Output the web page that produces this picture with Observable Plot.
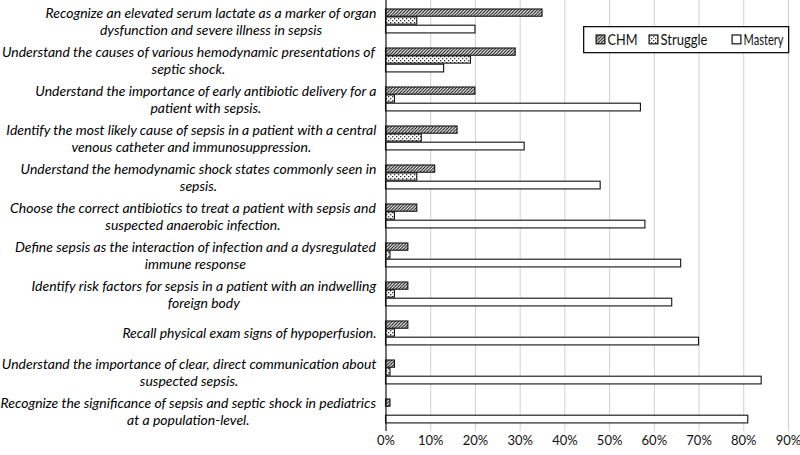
<!DOCTYPE html>
<html>
<head>
<meta charset="utf-8">
<script src="https://cdn.jsdelivr.net/npm/d3@7"></script>
<script src="https://cdn.jsdelivr.net/npm/@observablehq/plot@0.6"></script>
<style>
  html, body { margin: 0; padding: 0; background: #fff; }
  #wrap { position: relative; width: 800px; height: 455px; overflow: hidden; font-family: Lato, "Open Sans", sans-serif; }
  #legend { position: absolute; left: 583px; top: 26px; overflow: visible; }
</style>
</head>
<body>
<div id="wrap"></div>
<script>
const categories = [
  "Recognize an elevated serum lactate as a marker of organ\ndysfunction and severe illness in sepsis",
  "Understand the causes of various hemodynamic presentations of\nseptic shock.",
  "Understand the importance of early antibiotic delivery for a\npatient with sepsis.",
  "Identify the most likely cause of sepsis in a patient with a central\nvenous catheter and immunosuppression.",
  "Understand the hemodynamic shock states commonly seen in\nsepsis.",
  "Choose the correct antibiotics to treat a patient with sepsis and\nsuspected anaerobic infection.",
  "Define sepsis as the interaction of infection and a dysregulated\nimmune response",
  "Identify risk factors for sepsis in a patient with an indwelling\nforeign body",
  "Recall physical exam signs of hypoperfusion.",
  "Understand the importance of clear, direct communication about\nsuspected sepsis.",
  "Recognize the significance of sepsis and septic shock in pediatrics\nat a population-level."
];
const series = ["CHM", "Struggle", "Mastery"];
const chm      = [35, 29, 20, 16, 11, 7, 5, 5, 5, 2, 1];
const struggle = [7, 19, 2, 8, 7, 2, 1, 2, 2, 1, 0];
const mastery  = [20, 13, 57, 31, 48, 58, 66, 64, 70, 84, 81];
const xTicks = [0, 10, 20, 30, 40, 50, 60, 70, 80, 90];

const valuesBySeries = {CHM: chm, Struggle: struggle, Mastery: mastery};
const rows = [];
series.forEach(s => categories.forEach((c, i) => rows.push({category: c, series: s, value: valuesBySeries[s][i]})));

const fills = {CHM: "url(#pat-hatch)", Struggle: "url(#pat-dots)", Mastery: "#ffffff"};

const FONT = "Lato";
const labelSize = 14;
const H = 455, plotBottom = 431, axisX = 385.5;
const labelRight = axisX - 9;
const band = plotBottom / categories.length;
const slots = {
  CHM:      {top: 8.0,  h: 7.4},
  Struggle: {top: 15.9, h: 7.4},
  Mastery:  {top: 24.2, h: 7.9}
};

const marks = [
  Plot.ruleX(xTicks.filter(d => d > 0), {x: d => d, stroke: "#d0d0d0", strokeWidth: 1}),
  ...series.map(s => Plot.barX(rows.filter(r => r.series === s && r.value > 0), {
    x: "value", y: "category",
    fill: fills[s], stroke: "#111", strokeWidth: 1.1,
    insetTop: slots[s].top, insetBottom: band - slots[s].top - slots[s].h
  })),
  Plot.ruleX([0], {stroke: "#111", strokeWidth: 1.2}),
  Plot.text(xTicks, {x: d => d, text: d => d + "%", frameAnchor: "bottom", lineAnchor: "top", dy: 4,
    fontSize: 13, fill: "#111", fontFamily: FONT}),
  ...categories.map(c => Plot.text([c], {
    y: d => d, text: d => d, frameAnchor: "left", textAnchor: "middle", lineAnchor: "middle",
    dx: -200, fontSize: labelSize, fontStyle: "italic", fill: "#000",
    fontFamily: FONT, lineHeight: 17 / labelSize
  }))
];

const chart = Plot.plot({
  width: 800, height: H,
  marginLeft: axisX, marginRight: 12, marginTop: 0, marginBottom: H - plotBottom,
  style: {fontFamily: FONT, background: "#fff", overflow: "visible"},
  x: {domain: [0, 90], axis: null},
  y: {domain: categories, padding: 0, axis: null},
  marks
});

const svgNS = "http://www.w3.org/2000/svg";
const defsHost = document.createElementNS(svgNS, "svg");
defsHost.setAttribute("width", 0); defsHost.setAttribute("height", 0);
defsHost.style.position = "absolute";
defsHost.innerHTML = `
<defs>
  <pattern id="pat-hatch" patternUnits="userSpaceOnUse" width="3.2" height="3.2">
    <rect width="3.2" height="3.2" fill="#fff"/>
    <path d="M-0.8,0.8 L0.8,-0.8 M0,3.2 L3.2,0 M2.4,4 L4,2.4" stroke="#111" stroke-width="1.1"/>
  </pattern>
  <pattern id="pat-dots" patternUnits="userSpaceOnUse" width="4" height="4">
    <rect width="4" height="4" fill="#fff"/>
    <rect x="0" y="0" width="1.3" height="1.3" fill="#333"/>
    <rect x="2" y="2" width="1.3" height="1.3" fill="#333"/>
  </pattern>
</defs>`;
const wrap = document.getElementById("wrap");
wrap.appendChild(defsHost);
wrap.appendChild(chart);

// condense category labels horizontally (to emulate the narrower original face),
// then right-align each label block to the axis with its lines centred.
const textGroups = Array.from(chart.querySelectorAll('g[aria-label="text"]')).slice(-categories.length);
const svgRect = chart.getBoundingClientRect();
const boxes = textGroups.map(g => g.getBoundingClientRect());
const maxW = Math.max(...boxes.map(b => b.width));
const squeeze = Math.min(1, 376 / maxW);
textGroups.forEach((g, i) => {
  const b = boxes[i];
  const cx = b.left - svgRect.left + b.width / 2;
  const target = labelRight - squeeze * b.width / 2;
  const prev = g.getAttribute("transform") || "";
  g.setAttribute("transform", `translate(${target},0) scale(${squeeze},1) translate(${-cx},0) ${prev}`);
});

// legend box (inside the plot, top right)
const legendPos = {CHM: 12.5, Struggle: 65.5, Mastery: 148.5};
const legendTextW = {CHM: 30, Struggle: 47, Mastery: 40};
const leg = document.createElementNS(svgNS, "svg");
leg.id = "legend";
leg.setAttribute("width", 207); leg.setAttribute("height", 28);
let inner = `<rect x="0.65" y="0.65" width="205" height="26" fill="#fff" stroke="#111" stroke-width="1.3"/>`;
series.forEach(s => {
  const x = legendPos[s];
  inner += `<rect x="${x + 0.6}" y="9" width="8.8" height="8.8" fill="${fills[s]}" stroke="#111" stroke-width="1.2"/>`;
  inner += `<text x="${x + 12}" y="18.5" font-family="${FONT}" font-size="15" fill="#111"
             textLength="${legendTextW[s]}" lengthAdjust="spacingAndGlyphs">${s}</text>`;
});
leg.innerHTML = inner;
wrap.appendChild(leg);
</script>
</body>
</html>
